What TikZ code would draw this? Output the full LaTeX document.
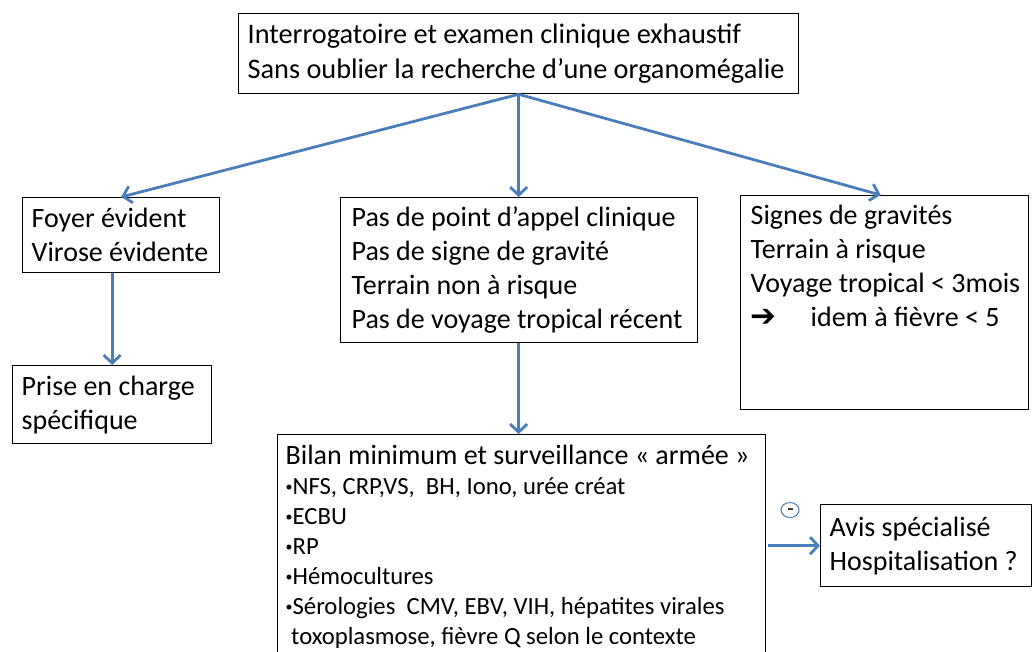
\documentclass[tikz,border=0pt]{standalone}
\usepackage{fontspec}
\setmainfont{Carlito}
\newfontfamily\symbfont{DejaVu Sans}
\usetikzlibrary{arrows.meta,positioning,shapes.geometric}
\definecolor{bleu}{HTML}{4A7EBB}
\newcommand{\puce}{\raisebox{3pt}{\fontsize{14}{14}\selectfont•}}
\tikzset{>={Straight Barb[length=8pt,width=17pt]},
  boite/.style={draw,line width=1.3pt,anchor=north west,align=flush left,inner xsep=9pt,inner ysep=4pt,font=\fontsize{28}{34}\selectfont},
  fleche/.style={bleu,line width=2.8pt,->}}

\begin{document}
\begin{tikzpicture}[x=1pt,y=-1pt]
\useasboundingbox (0,0) rectangle (1032,651);
% boites
\node[boite,text width=542,minimum height=80,font=\fontsize{28.3}{35}\selectfont] (interro) at (238,13) {Interrogatoire et examen clinique exhaustif\\Sans oublier la recherche d’une organomégalie};
\node[boite,text width=179,minimum height=75] (foyer) at (22,197) {Foyer évident\\Virose évidente};
\node[boite,inner xsep=11pt,text width=335,minimum height=145] (pasappel) at (340,197) {Pas de point d’appel clinique\\Pas de signe de gravité\\Terrain non à risque\\Pas de voyage tropical récent};
\node[boite,minimum width=288,minimum height=214] (signes) at (740,195) {};
\node[boite,draw=none,text width=275,inner xsep=10pt,inner ysep=9pt] (signestxt) at (signes.north west) {Signes de gravités\\Terrain à risque\\Voyage tropical < 3mois\\{\symbfont\bfseries\fontsize{31}{34}\selectfont ➔}\hspace{34pt}idem à fièvre < 5};
\node[boite,text width=181,minimum height=78] (prise) at (12,365) {Prise en charge\\spécifique};
\node[boite,inner xsep=8pt,inner ysep=10pt,text width=472,font=\fontsize{28}{30}\selectfont] (bilan) at (277,434) {Bilan minimum et surveillance « armée »\\{\fontsize{24.7}{30}\selectfont\puce NFS, CRP,VS,\ \ BH, Iono, urée créat\\\puce ECBU\\\puce RP\\\puce Hémocultures\\\puce Sérologies\ \ CMV, EBV, VIH, hépatites virales\\\ toxoplasmose, fièvre Q selon le contexte}};
\node[boite,text width=193,minimum height=82] (avis) at (820,504) {Avis spécialisé\\Hospitalisation ?};
\node[draw=bleu,ellipse,line width=1pt,inner sep=0pt,minimum width=18,minimum height=15] (moins) at (790,510) {\color{darkgray}\rule[2pt]{5pt}{1.3pt}};
% fleches
\draw[fleche] (interro.south) -- (foyer.north);
\draw[fleche] (interro.south) -- (pasappel.north -| interro.south);
\draw[fleche] (interro.south) -- ([xshift=-4]signes.north);
\draw[fleche] (prise.north |- foyer.south) -- (prise.north);
\draw[fleche] (pasappel.south -| interro.south) -- (bilan.north -| interro.south);
\draw[fleche,shorten <=2pt] (avis.west -| bilan.east) -- (avis.west);
\end{tikzpicture}
\end{document}
